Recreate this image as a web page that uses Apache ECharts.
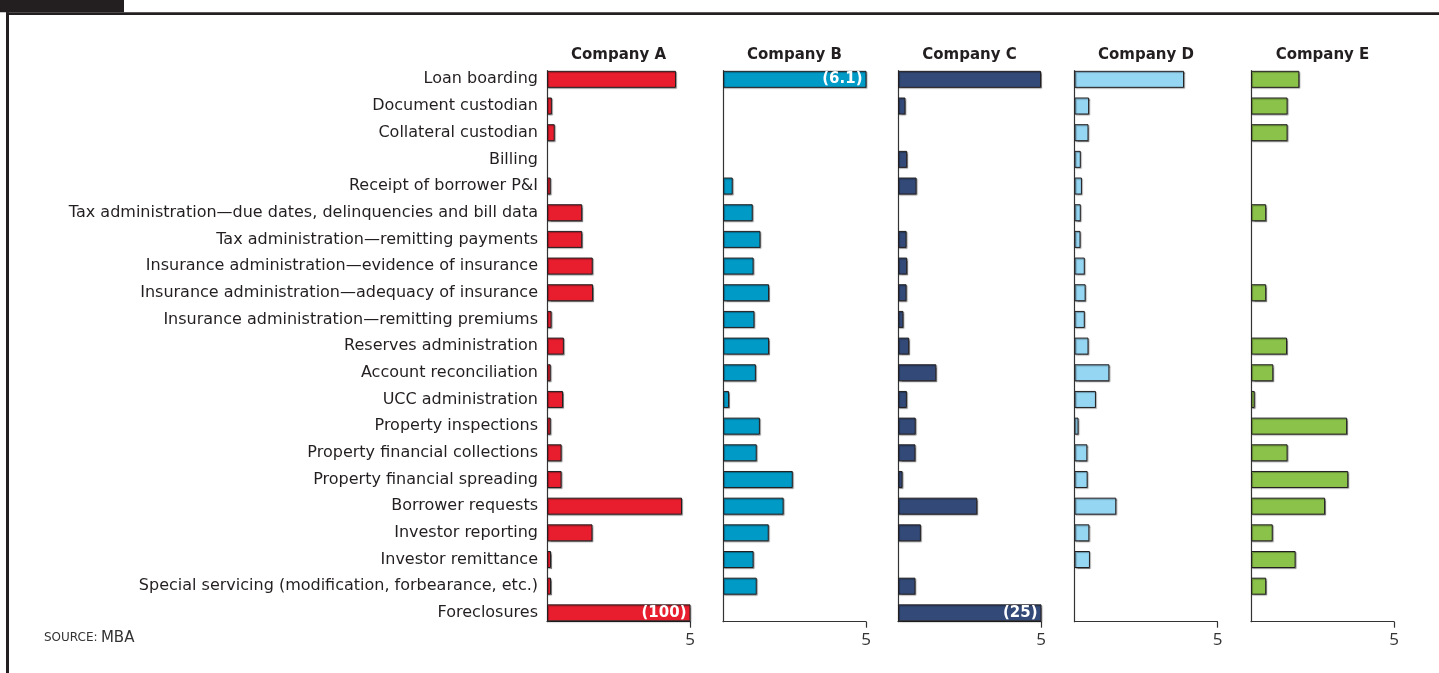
<!DOCTYPE html>
<html><head><meta charset="utf-8">
<script src="https://cdn.jsdelivr.net/npm/echarts@6/dist/echarts.min.js"></script>
<style>html,body{margin:0;padding:0;background:#fff}#c{width:1439px;height:673px}</style>
</head><body><div id="c"></div>
<script>
const categories = [
  'Loan boarding',
  'Document custodian',
  'Collateral custodian',
  'Billing',
  'Receipt of borrower P&I',
  'Tax administration\u2014due dates, delinquencies and bill data',
  'Tax administration\u2014remitting payments',
  'Insurance administration\u2014evidence of insurance',
  'Insurance administration\u2014adequacy of insurance',
  'Insurance administration\u2014remitting premiums',
  'Reserves administration',
  'Account reconciliation',
  'UCC administration',
  'Property inspections',
  'Property financial collections',
  'Property financial spreading',
  'Borrower requests',
  'Investor reporting',
  'Investor remittance',
  'Special servicing (modification, forbearance, etc.)',
  'Foreclosures'
];
const companyNames = ['Company A', 'Company B', 'Company C', 'Company D', 'Company E'];
const companyA = [4.51, 0.17, 0.27, null, 0.13, 1.23, 1.23, 1.60, 1.61, 0.16, 0.59, 0.13, 0.56, 0.13, 0.51, 0.51, 4.72, 1.59, 0.14, 0.14, 100];
const companyB = [6.1, null, null, null, 0.34, 1.04, 1.31, 1.07, 1.61, 1.10, 1.61, 1.15, 0.21, 1.29, 1.18, 2.44, 2.12, 1.60, 1.07, 1.18, null];
const companyC = [5.0, 0.26, null, 0.32, 0.65, null, 0.30, 0.32, 0.30, 0.19, 0.39, 1.34, 0.31, 0.62, 0.61, 0.16, 2.77, 0.80, null, 0.61, 25];
const companyD = [3.83, 0.51, 0.49, 0.22, 0.26, 0.22, 0.21, 0.36, 0.39, 0.36, 0.49, 1.22, 0.75, 0.14, 0.45, 0.46, 1.46, 0.52, 0.54, null, null];
const companyE = [1.69, 1.28, 1.28, null, null, 0.53, null, null, 0.53, null, 1.26, 0.78, 0.13, 3.36, 1.28, 3.40, 2.59, 0.76, 1.56, 0.53, null];
const tickValues = [5];
const axisMax = 5;
const sourceLabel = 'SOURCE:';
const sourceName = 'MBA';

const allValues = [companyA, companyB, companyC, companyD, companyE];
const colors = ['#e81e2e', '#009ac7', '#334a78', '#95d6f3', '#8bc34a'];
const panelLefts = [547, 723, 898, 1074.5, 1251];
const panelWidth = 143;
const FONT = 'DejaVu Sans';
const ink = '#231f20';

const grid = [], xAxis = [], yAxis = [], series = [], graphic = [];
panelLefts.forEach((L, i) => {
  const g = 2 * i;
  grid.push({ left: L, top: 66, width: panelWidth, height: 560.2 });
  grid.push({ left: L, top: 70.7, width: panelWidth, height: 551 });
  xAxis.push({ gridIndex: g, type: 'value', min: 0, max: axisMax, show: false });
  xAxis.push({
    gridIndex: g + 1, type: 'value', min: 0, max: axisMax, interval: axisMax,
    axisLine: { show: true, onZero: false, lineStyle: { color: '#333', width: 1.2 } },
    axisTick: { show: true, customValues: tickValues, length: 6, lineStyle: { color: '#333', width: 1.2 } },
    axisLabel: { show: true, customValues: tickValues, formatter: v => (v === 0 ? '' : String(v)), fontSize: 17, color: '#333', margin: 10, fontFamily: 'Open Sans' },
    splitLine: { show: false }
  });
  yAxis.push({
    gridIndex: g, type: 'category', data: categories, inverse: true,
    axisLine: { show: false }, axisTick: { show: false }, splitLine: { show: false },
    axisLabel: { show: i === 0, fontSize: 16, color: ink, margin: 9, fontFamily: FONT, interval: 0 }
  });
  yAxis.push({
    gridIndex: g + 1, type: 'value', min: 0, max: 1,
    axisLine: { show: true, onZero: false, lineStyle: { color: '#333', width: 1.2 } },
    axisTick: { show: false }, axisLabel: { show: false }, splitLine: { show: false }
  });
  series.push({
    type: 'bar', name: companyNames[i], xAxisIndex: g, yAxisIndex: g,
    barWidth: 17, clip: true, animation: false,
    itemStyle: { color: colors[i], borderColor: ink, borderWidth: 1, shadowColor: 'rgba(0,0,0,0.35)', shadowOffsetX: 1, shadowOffsetY: 1, shadowBlur: 1 },
    label: { show: false },
    data: allValues[i].map(v => (v !== null && v > axisMax)
      ? { value: v, label: { show: true, position: 'insideRight', distance: 4, formatter: '({c})', color: '#fff', fontWeight: 'bold', fontSize: 15, fontFamily: FONT } }
      : v)
  });
  graphic.push({
    type: 'text', x: L + panelWidth / 2, y: 55,
    style: { text: companyNames[i], fill: ink, font: 'bold 15px "' + FONT + '"', textAlign: 'center', textVerticalAlign: 'middle' }
  });
});

// page frame
graphic.push({ type: 'rect', shape: { x: 0, y: 0, width: 124, height: 12.3 }, style: { fill: ink } });
graphic.push({ type: 'rect', shape: { x: 6, y: 12.3, width: 1433, height: 2.7 }, style: { fill: ink } });
graphic.push({ type: 'rect', shape: { x: 6, y: 12.3, width: 3, height: 661 }, style: { fill: ink } });
graphic.push({
  type: 'text', x: 44, y: 638,
  style: {
    text: '{a|' + sourceLabel + '} {b|' + sourceName + '}',
    textVerticalAlign: 'middle',
    rich: {
      a: { fontSize: 12, fill: '#333', fontFamily: FONT },
      b: { fontSize: 15, fill: '#333', fontFamily: FONT }
    }
  }
});

const chart = echarts.init(document.getElementById('c'), null, { renderer: 'canvas' });
chart.setOption({
  backgroundColor: '#fff',
  animation: false,
  grid, xAxis, yAxis, series, graphic
});
</script></body></html>
